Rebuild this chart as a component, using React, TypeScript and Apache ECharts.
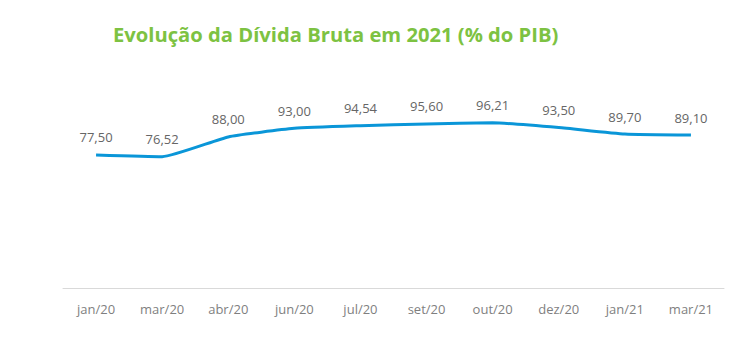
import React, { useEffect, useRef } from "react";
import * as echarts from "echarts";

const categories = ["jan/20", "mar/20", "abr/20", "jun/20", "jul/20", "set/20", "out/20", "dez/20", "jan/21", "mar/21"];
const values = [77.5, 76.52, 88.0, 93.0, 94.54, 95.6, 96.21, 93.5, 89.7, 89.1];
const titleText = "Evolução da Dívida Bruta em 2021 (% do PIB)";

export default function App() {
  const ref = useRef<HTMLDivElement>(null);
  useEffect(() => {
    const chart = echarts.init(ref.current!, null, { renderer: "svg" });
    chart.setOption({
      animation: false,
      title: {
        text: titleText,
        left: 108,
        top: 19,
        textStyle: { color: "#7dc242", fontSize: 20.2, fontWeight: "bold", fontFamily: "Open Sans" },
      },
      grid: { left: 63, right: 26, top: 82, bottom: 67 },
      xAxis: {
        type: "category",
        data: categories,
        boundaryGap: true,
        axisLine: { lineStyle: { color: "#d9d9d9", width: 1 } },
        axisTick: { show: false },
        axisLabel: { color: "#7f7f7f", fontSize: 13, margin: 14, fontFamily: "Open Sans" },
      },
      yAxis: {
        type: "value",
        min: 0,
        max: 120,
        show: false,
        splitLine: { show: false },
      },
      series: [
        {
          type: "line",
          data: values,
          smooth: 0.15,
          symbol: "circle",
          symbolSize: 2,
          showSymbol: true,
          itemStyle: { color: "rgba(0,0,0,0)", borderWidth: 0 },
          lineStyle: { color: "#0a96d8", width: 3 },
          label: {
            show: true,
            position: "top",
            distance: 10,
            color: "#666666",
            fontSize: 13,
            fontFamily: "Open Sans",
            formatter: (p: any) => Number(p.value).toFixed(2).replace(".", ","),
          },
        },
      ],
    });
    return () => chart.dispose();
  }, []);
  return <div ref={ref} style={{ width: 750, height: 355, position: "absolute", left: 0, top: 0, background: "#fff" }} />;
}
